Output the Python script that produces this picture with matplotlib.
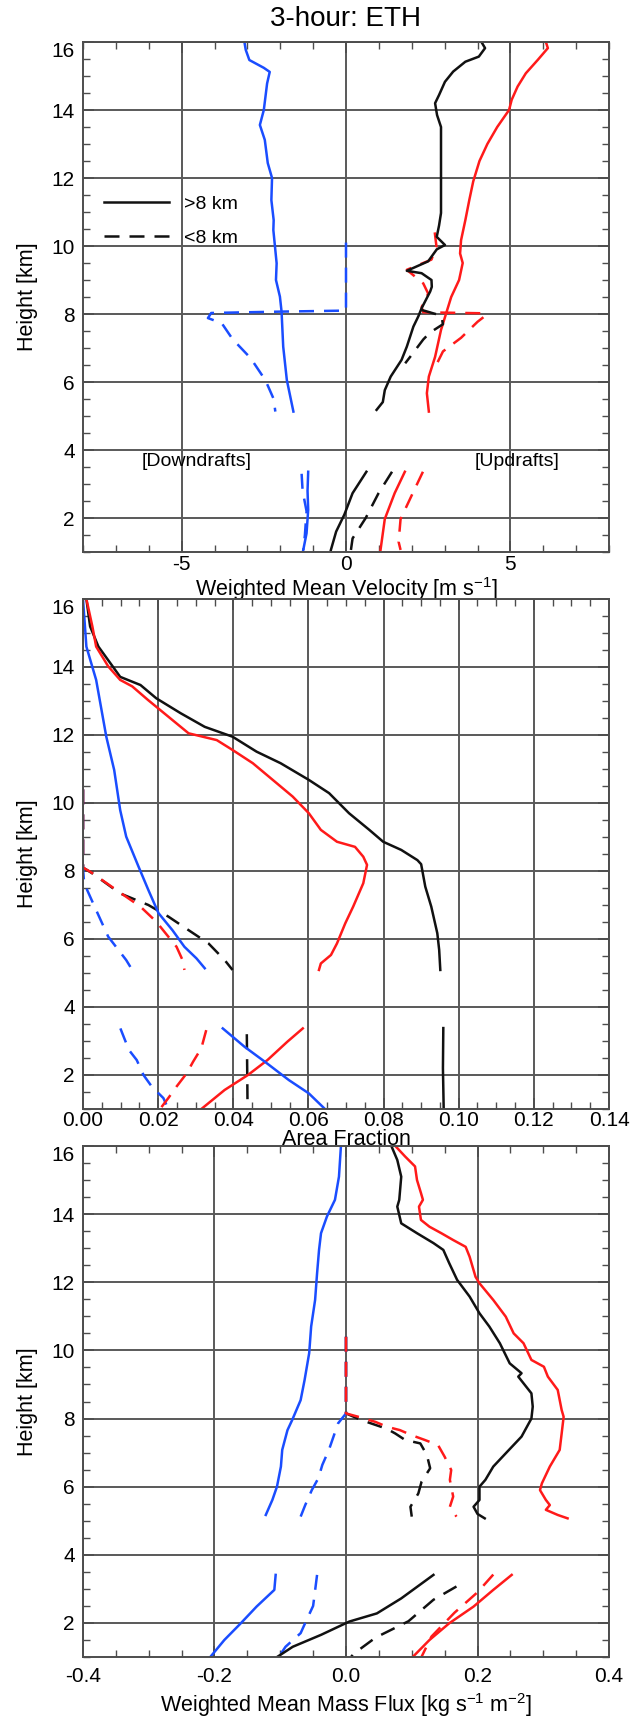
import numpy as np
import matplotlib
matplotlib.use("Agg")
import matplotlib.pyplot as plt
from matplotlib.lines import Line2D
from matplotlib.ticker import MultipleLocator

plt.rcParams['font.family'] = ['Liberation Sans', 'DejaVu Sans']
plt.rcParams['mathtext.default'] = 'regular'
plt.rcParams['axes.unicode_minus'] = False

BLUE = '#1a4dff'
RED = '#ff1a1a'
BLACK = '#111111'

# ---------------- panel 1: weighted mean velocity (m/s) ----------------
vel_blue_solid_h = [16.0, 15.77, 15.47, 15.24, 15.12, 14.78, 14.0, 13.56, 13.12, 12.44, 12.0, 11.35,
                    10.76, 10.47, 9.98, 9.49, 9.0, 8.51, 8.07, 7.04, 6.06, 5.13]
vel_blue_solid = [-3.09, -3.05, -2.94, -2.5, -2.32, -2.4, -2.5, -2.62, -2.47, -2.38, -2.25, -2.27,
                  -2.2, -2.21, -2.16, -2.11, -2.13, -2.01, -1.96, -1.91, -1.8, -1.6]
vel_blue_solid_lo_h = [3.36, 2.8, 2.24, 1.55, 1.06]
vel_blue_solid_lo = [-1.15, -1.17, -1.15, -1.2, -1.3]
vel_blue_dash_h = [10.1, 8.1, 8.07, 8.03, 7.88, 7.73, 7.26, 6.7, 6.05, 5.5, 5.13]
vel_blue_dash = [0.0, 0.0, -2.0, -4.1, -4.2, -3.78, -3.45, -2.9, -2.45, -2.2, -2.15]
vel_blue_dash_lo_h = [3.3, 2.8, 2.2, 1.5, 1.06]
vel_blue_dash_lo = [-1.35, -1.32, -1.2, -1.25, -1.3]

vel_black_solid_h = [16.0, 15.82, 15.57, 15.42, 15.13, 14.83, 14.44, 14.2, 13.85, 13.5, 12.82, 11.85,
                     10.97, 10.6, 10.27, 10.03, 9.9, 9.55, 9.27, 9.2, 9.0, 8.8, 8.66, 8.17, 7.93,
                     7.63, 7.04, 6.65, 6.16, 5.76, 5.41, 5.18]
vel_black_solid = [4.12, 4.23, 4.04, 3.63, 3.26, 3.01, 2.83, 2.71, 2.77, 2.89, 2.89, 2.89,
                   2.89, 2.83, 2.76, 3.01, 2.76, 2.5, 1.85, 2.3, 2.6, 2.61, 2.56, 2.3, 2.2,
                   2.05, 1.85, 1.69, 1.36, 1.18, 1.12, 0.93]
vel_black_solid_lo_h = [3.36, 2.73, 2.1, 1.6, 1.06]
vel_black_solid_lo = [0.62, 0.2, -0.05, -0.3, -0.46]
vel_black_dash_h = [8.12, 7.95, 7.7, 7.45, 7.25, 6.8, 6.55]
vel_black_dash = [2.3, 2.9, 2.95, 2.55, 2.35, 2.0, 1.8]
vel_black_dash_lo_h = [3.36, 2.73, 2.0, 1.4, 1.06]
vel_black_dash_lo = [1.4, 0.99, 0.6, 0.2, 0.15]

vel_red_solid_h = [16.0, 15.82, 15.47, 15.08, 14.69, 14.3, 14.0, 13.5, 13.0, 12.5, 11.9, 11.35,
                   10.76, 10.17, 9.78, 9.5, 9.0, 8.5, 7.53, 6.74, 6.16, 5.67, 5.13]
vel_red_solid = [6.08, 6.14, 5.83, 5.47, 5.22, 5.04, 4.96, 4.6, 4.3, 4.06, 3.87, 3.75,
                 3.63, 3.5, 3.47, 3.55, 3.44, 3.2, 2.89, 2.71, 2.52, 2.46, 2.52]
vel_red_solid_lo_h = [3.36, 2.73, 1.97, 1.06]
vel_red_solid_lo = [1.79, 1.48, 1.18, 1.05]
vel_red_dash_h = [10.4, 10.0, 9.6, 9.3, 8.9, 8.6, 8.2, 8.05, 8.02, 7.95, 7.77, 7.3, 6.9, 6.55]
vel_red_dash = [2.7, 2.75, 2.6, 1.85, 2.35, 2.5, 2.3, 2.35, 4.24, 4.24, 4.0, 3.5, 2.95, 2.77]
vel_red_dash_lo_h = [3.36, 2.73, 1.97, 1.3, 1.06]
vel_red_dash_lo = [2.34, 2.03, 1.66, 1.6, 1.66]

# ---------------- panel 2: area fraction ----------------
af_black_solid_h = [16, 15.19, 14.6, 14.11, 13.71, 13.47, 13.08, 12.64, 12.24, 11.95, 11.51, 11.17,
                    10.68, 10.29, 9.7, 9.21, 8.86, 8.62, 8.32, 8.2, 7.54, 6.95, 6.17, 5.68, 5.09]
af_black_solid = [0.0009, 0.0019, 0.0041, 0.0073, 0.0099, 0.0153, 0.0195, 0.026, 0.0324, 0.0398,
                  0.0462, 0.0526, 0.0601, 0.0655, 0.0708, 0.0762, 0.0799, 0.0847, 0.089, 0.09,
                  0.0911, 0.0927, 0.0943, 0.0948, 0.0951]
af_black_solid_lo_h = [3.38, 2.2, 1.0]
af_black_solid_lo = [0.0959, 0.0958, 0.096]
af_black_dash_h = [10.4, 8.1, 7.93, 7.34, 7.0, 6.66, 6.26, 5.87, 5.38, 5.09]
af_black_dash = [0.0, 0.0, 0.0025, 0.0099, 0.0174, 0.0227, 0.0281, 0.0334, 0.0377, 0.0398]
af_black_dash_lo_h = [3.2, 2.2, 1.0]
af_black_dash_lo = [0.0436, 0.0437, 0.0438]

af_red_solid_h = [16, 15.19, 14.6, 14.02, 13.62, 13.43, 13.03, 12.54, 12.05, 11.85, 11.56, 11.17,
                  10.68, 10.19, 9.7, 9.21, 8.86, 8.71, 8.42, 8.18, 7.64, 6.95, 6.46, 5.87, 5.53,
                  5.28, 5.09]
af_red_solid = [0.0009, 0.0025, 0.0035, 0.0067, 0.0099, 0.0131, 0.0173, 0.0227, 0.0281, 0.0356,
                0.0398, 0.0452, 0.0505, 0.0558, 0.0601, 0.0633, 0.0676, 0.0724, 0.0746, 0.0756,
                0.0746, 0.0719, 0.0698, 0.0676, 0.066, 0.0633, 0.0628]
af_red_solid_lo_h = [1.0, 1.56, 2.0, 2.44, 2.98, 3.37]
af_red_solid_lo = [0.0315, 0.0377, 0.0439, 0.0491, 0.0544, 0.0585]
af_red_dash_h = [10.4, 8.1, 7.98, 7.44, 6.95, 6.51, 6.07, 5.77, 5.38, 5.09]
af_red_dash = [0.0, 0.0, 0.0019, 0.0089, 0.0153, 0.0195, 0.0227, 0.0249, 0.0265, 0.027]
af_red_dash_lo_h = [3.32, 2.79, 2.39, 2.05, 1.66, 1.32, 1.0]
af_red_dash_lo = [0.0328, 0.0315, 0.0293, 0.0276, 0.0249, 0.0227, 0.0205]

af_blue_solid_h = [16, 14.6, 13.62, 11.95, 10.97, 9.79, 9.01, 8.15, 7.44, 6.76, 6.26, 5.77, 5.43, 5.14]
af_blue_solid = [0.0, 0.0009, 0.0035, 0.0062, 0.0083, 0.0099, 0.0115, 0.0147, 0.0174, 0.0201,
                 0.0238, 0.027, 0.0302, 0.0324]
af_blue_solid_lo_h = [3.37, 2.83, 2.39, 1.85, 1.46, 1.0]
af_blue_solid_lo = [0.0372, 0.043, 0.0484, 0.0548, 0.0601, 0.0644]
af_blue_dash_h = [10.4, 8.1, 7.64, 6.85, 6.07, 5.38, 5.09]
af_blue_dash = [0.0, 0.0, 0.0003, 0.0035, 0.0067, 0.0115, 0.0131]
af_blue_dash_lo_h = [3.37, 2.74, 2.44, 2.0, 1.66, 1.32, 1.0]
af_blue_dash_lo = [0.00995, 0.0122, 0.0143, 0.0161, 0.0183, 0.0214, 0.0227]

# ---------------- panel 3: weighted mean mass flux ----------------
mf_blue_solid_h = [16, 15.1, 14.42, 13.93, 13.44, 12.95, 12.26, 11.48, 10.7, 9.92, 9.13, 8.54,
                   7.95, 7.66, 7.08, 6.59, 6.0, 5.61, 5.17]
mf_blue_solid = [-0.0077, -0.0107, -0.0168, -0.029, -0.038, -0.041, -0.044, -0.047, -0.053, -0.056,
                 -0.063, -0.069, -0.082, -0.089, -0.097, -0.099, -0.105, -0.112, -0.122]
mf_blue_solid_lo_h = [3.41, 2.97, 2.48, 1.99, 1.5, 1.01]
mf_blue_solid_lo = [-0.107, -0.109, -0.136, -0.16, -0.185, -0.206]
mf_blue_dash_h = [10.4, 8.15, 7.86, 7.47, 7.08, 6.64, 6.25, 5.9, 5.46, 5.12]
mf_blue_dash = [0.0, 0.0, -0.012, -0.019, -0.026, -0.036, -0.042, -0.052, -0.062, -0.069]
mf_blue_dash_lo_h = [3.41, 2.8, 2.5, 2.0, 1.7, 1.3, 1.01]
mf_blue_dash_lo = [-0.044, -0.048, -0.05, -0.062, -0.069, -0.092, -0.102]

mf_black_solid_h = [16, 15.59, 15.1, 14.42, 14.22, 13.73, 13.44, 13.15, 12.95, 12.56, 12.07, 11.58,
                    11.09, 10.7, 10.21, 9.62, 9.33, 9.23, 8.74, 8.35, 8.0, 7.47, 6.98, 6.59, 6.2,
                    6.0, 5.61, 5.41, 5.2, 5.07]
mf_black_solid = [0.069, 0.078, 0.084, 0.081, 0.078, 0.084, 0.108, 0.133, 0.148, 0.157, 0.169, 0.188,
                  0.203, 0.218, 0.234, 0.249, 0.267, 0.262, 0.282, 0.284, 0.282, 0.267, 0.243, 0.224,
                  0.212, 0.203, 0.203, 0.194, 0.2, 0.211]
mf_black_solid_lo_h = [3.41, 2.72, 2.28, 2.04, 1.65, 1.3, 1.01]
mf_black_solid_lo = [0.133, 0.084, 0.047, 0.005, -0.038, -0.081, -0.104]
mf_black_dash_h = [10.4, 8.15, 7.95, 7.7, 7.56, 7.37, 7.27, 6.93, 6.54, 6.15, 5.8, 5.41, 5.12]
mf_black_dash = [0.0, 0.0, 0.024, 0.062, 0.075, 0.09, 0.113, 0.123, 0.128, 0.115, 0.11, 0.098, 0.1]
mf_black_dash_lo_h = [3.07, 2.68, 2.05, 1.57, 1.1, 1.01]
mf_black_dash_lo = [0.168, 0.133, 0.095, 0.045, 0.012, 0.008]

mf_red_solid_h = [16, 15.69, 15.4, 15.0, 14.62, 14.42, 14.22, 13.83, 13.63, 13.44, 13.24, 13.04,
                  12.75, 12.16, 11.97, 11.48, 10.99, 10.5, 10.21, 9.72, 9.52, 9.23, 8.84, 8.25,
                  8.05, 7.56, 7.08, 6.59, 6.1, 5.9, 5.61, 5.46, 5.32, 5.17, 5.07]
mf_red_solid = [0.075, 0.09, 0.105, 0.108, 0.114, 0.117, 0.111, 0.114, 0.127, 0.145, 0.163, 0.182,
                0.188, 0.197, 0.203, 0.224, 0.243, 0.255, 0.27, 0.282, 0.301, 0.307, 0.322, 0.328,
                0.331, 0.328, 0.325, 0.31, 0.298, 0.295, 0.304, 0.31, 0.304, 0.322, 0.337]
mf_red_solid_lo_h = [3.41, 2.97, 2.48, 1.99, 1.5, 1.01]
mf_red_solid_lo = [0.252, 0.224, 0.194, 0.157, 0.127, 0.102]
mf_red_dash_h = [10.4, 8.15, 8.05, 7.9, 7.76, 7.66, 7.51, 7.37, 7.22, 6.88, 6.49, 6.2, 5.71, 5.41, 5.12]
mf_red_dash = [0.0, 0.0, 0.019, 0.045, 0.062, 0.082, 0.1, 0.12, 0.14, 0.15, 0.16, 0.158, 0.163,
               0.158, 0.168]
mf_red_dash_lo_h = [3.42, 2.9, 2.3, 1.6, 1.01]
mf_red_dash_lo = [0.224, 0.2, 0.165, 0.13, 0.115]

DASH = (6, 4)
LW = 1.8
TICK_FS = 15
LABEL_FS = 15.5


def draw(ax, x, h, color, dashed=False):
    if dashed:
        ax.plot(x, h, color=color, lw=LW, dashes=DASH)
    else:
        ax.plot(x, h, color=color, lw=LW)


def style(ax, xlim, xmajor, xminor, xlabel, xfmt, xpad, label_y):
    ax.set_xlim(*xlim)
    ax.set_ylim(1, 16)
    ax.xaxis.set_major_locator(MultipleLocator(xmajor))
    ax.xaxis.set_minor_locator(MultipleLocator(xminor))
    ax.yaxis.set_major_locator(MultipleLocator(2))
    ax.yaxis.set_minor_locator(MultipleLocator(0.5))
    ax.xaxis.set_major_formatter(xfmt)
    ax.grid(True, which='major', color='0.35', lw=1.4)
    ax.set_axisbelow(True)
    ax.tick_params(which='both', direction='in', top=True, right=True, labelsize=TICK_FS,
                   color='0.3')
    ax.tick_params(which='major', length=8, width=1.2)
    ax.tick_params(which='minor', length=5, width=1.0)
    ax.tick_params(axis='y', which='major', pad=6)
    ax.tick_params(axis='x', which='major', pad=xpad)
    for s in ax.spines.values():
        s.set_color('0.3')
        s.set_linewidth(1.4)
    ax.set_ylabel('Height [km]', fontsize=LABEL_FS)
    ax.yaxis.set_label_coords(-0.105, 0.5)
    ax.yaxis.label.set_verticalalignment('center')
    ax.set_xlabel(xlabel, fontsize=LABEL_FS)
    ax.xaxis.set_label_coords(0.5, label_y)
    ax.xaxis.label.set_verticalalignment('center')
    # the top label sits just below the frame, as in the original
    ax.figure.canvas.draw()
    for lab in ax.get_yticklabels():
        if lab.get_text() == '16':
            lab.set_verticalalignment('top')


fig = plt.figure(figsize=(6.3, 17.2), dpi=100)
L, W = 83 / 630, (609 - 83) / 630
ax1 = fig.add_axes([L, 1 - 552 / 1720, W, 510 / 1720])
ax2 = fig.add_axes([L, 1 - 1109 / 1720, W, 510 / 1720])
ax3 = fig.add_axes([L, 1 - 1657 / 1720, W, 511 / 1720])
# the "Area Fraction" label runs onto the frame of the panel below
ax2.set_zorder(3)

# panel 1
for x, h, c, d in [
    (vel_blue_dash, vel_blue_dash_h, BLUE, True), (vel_blue_dash_lo, vel_blue_dash_lo_h, BLUE, True),
    (vel_blue_solid, vel_blue_solid_h, BLUE, False), (vel_blue_solid_lo, vel_blue_solid_lo_h, BLUE, False),
    (vel_red_dash, vel_red_dash_h, RED, True), (vel_red_dash_lo, vel_red_dash_lo_h, RED, True),
    (vel_red_solid, vel_red_solid_h, RED, False), (vel_red_solid_lo, vel_red_solid_lo_h, RED, False),
    (vel_black_dash, vel_black_dash_h, BLACK, True), (vel_black_dash_lo, vel_black_dash_lo_h, BLACK, True),
    (vel_black_solid, vel_black_solid_h, BLACK, False), (vel_black_solid_lo, vel_black_solid_lo_h, BLACK, False),
]:
    draw(ax1, x, h, c, d)
style(ax1, (-8, 8), 5, 1, 'Weighted Mean Velocity [m s$^{-1}$]', '{x:.0f}', 2.5, -0.072)
ax1.text(-4.55, 3.67, '[Downdrafts]', ha='center', va='center', fontsize=14)
ax1.text(5.2, 3.67, '[Updrafts]', ha='center', va='center', fontsize=14)
handles = [Line2D([], [], color=BLACK, lw=LW), Line2D([], [], color=BLACK, lw=LW, dashes=DASH)]
ax1.legend(handles, ['>8 km', '<8 km'], loc='upper left', bbox_to_anchor=(0.039, 0.70),
           frameon=False, fontsize=14, handlelength=3.35, handletextpad=0.8, labelspacing=0.85,
           borderpad=0, borderaxespad=0)
ax1.set_title('3-hour: ETH', fontsize=20, y=1.045, va='center', pad=0)

# panel 2
for x, h, c, d in [
    (af_black_dash, af_black_dash_h, BLACK, True), (af_black_dash_lo, af_black_dash_lo_h, BLACK, True),
    (af_blue_dash, af_blue_dash_h, BLUE, True), (af_blue_dash_lo, af_blue_dash_lo_h, BLUE, True),
    (af_red_dash, af_red_dash_h, RED, True), (af_red_dash_lo, af_red_dash_lo_h, RED, True),
    (af_black_solid, af_black_solid_h, BLACK, False), (af_black_solid_lo, af_black_solid_lo_h, BLACK, False),
    (af_red_solid, af_red_solid_h, RED, False), (af_red_solid_lo, af_red_solid_lo_h, RED, False),
    (af_blue_solid, af_blue_solid_h, BLUE, False), (af_blue_solid_lo, af_blue_solid_lo_h, BLUE, False),
]:
    draw(ax2, x, h, c, d)
style(ax2, (0, 0.14), 0.02, 0.005, 'Area Fraction', '{x:.2f}', 1.5, -0.06)

# panel 3
for x, h, c, d in [
    (mf_black_dash, mf_black_dash_h, BLACK, True), (mf_black_dash_lo, mf_black_dash_lo_h, BLACK, True),
    (mf_blue_dash, mf_blue_dash_h, BLUE, True), (mf_blue_dash_lo, mf_blue_dash_lo_h, BLUE, True),
    (mf_red_dash, mf_red_dash_h, RED, True), (mf_red_dash_lo, mf_red_dash_lo_h, RED, True),
    (mf_blue_solid, mf_blue_solid_h, BLUE, False), (mf_blue_solid_lo, mf_blue_solid_lo_h, BLUE, False),
    (mf_black_solid, mf_black_solid_h, BLACK, False), (mf_black_solid_lo, mf_black_solid_lo_h, BLACK, False),
    (mf_red_solid, mf_red_solid_h, RED, False), (mf_red_solid_lo, mf_red_solid_lo_h, RED, False),
]:
    draw(ax3, x, h, c, d)
style(ax3, (-0.4, 0.4), 0.2, 0.05, 'Weighted Mean Mass Flux [kg s$^{-1}$ m$^{-2}$]', '{x:.1f}',
      7, -0.094)

fig.savefig('out.png', dpi=100)
